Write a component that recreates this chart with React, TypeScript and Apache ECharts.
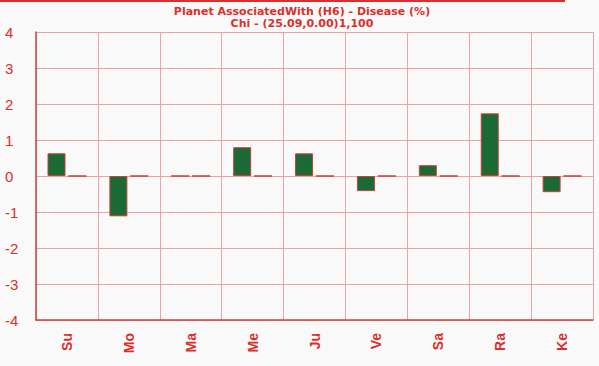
import React, { useEffect, useRef } from "react";
import * as echarts from "echarts";

const categories = ["Su", "Mo", "Ma", "Me", "Ju", "Ve", "Sa", "Ra", "Ke"];
const diseaseValues = [0.63, -1.12, 0, 0.8, 0.63, -0.42, 0.3, 1.74, -0.45];
const baselineValues = [0, 0, 0, 0, 0, 0, 0, 0, 0];
const titleLines = ["Planet AssociatedWith (H6) - Disease (%)", "Chi - (25.09,0.00)1,100"];

export default function App() {
  const ref = useRef<HTMLDivElement>(null);
  useEffect(() => {
    document.body.style.margin = "0";
    const chart = echarts.init(ref.current!, undefined, { renderer: "svg" });
    const red = "#d9302c";
    chart.setOption({
      animation: false,
      backgroundColor: "#f9f9f9",
      title: {
        text: titleLines.join("\n"),
        left: 297,
        textAlign: "center",
        top: 0,
        textStyle: {
          color: red,
          fontSize: 11,
          fontWeight: "bold",
          fontFamily: "DejaVu Sans, sans-serif",
          lineHeight: 12,
        },
      },
      graphic: [
        { type: "rect", shape: { x: 0, y: 0, width: 565, height: 2 }, style: { fill: red } },
      ],
      grid: { left: 36, right: 6, top: 32, bottom: 46, containLabel: false },
      xAxis: {
        type: "category",
        data: categories,
        axisLine: { show: true, onZero: false, lineStyle: { color: "#d04040", width: 1.5 } },
        axisTick: { show: false },
        splitLine: { show: true, lineStyle: { color: "#eba3a3", width: 1 } },
        axisLabel: {
          rotate: 90,
          color: red,
          fontSize: 14,
          fontWeight: "bold",
          margin: 13,
          fontFamily: "Liberation Sans, Arial, sans-serif",
        },
      },
      yAxis: {
        type: "value",
        min: -4,
        max: 4,
        interval: 1,
        axisLine: { show: true, lineStyle: { color: "#d04040", width: 1.5 } },
        axisTick: { show: false },
        splitLine: { show: true, lineStyle: { color: "#eba3a3", width: 1 } },
        axisLabel: {
          color: red,
          fontSize: 15,
          align: "left",
          margin: 31,
          fontFamily: "Liberation Sans, Arial, sans-serif",
        },
      },
      series: [
        {
          type: "bar",
          data: diseaseValues,
          barWidth: 18,
          barGap: "16%",
          itemStyle: { color: "#1b6a36", borderColor: "#c8403a", borderWidth: 1 },
        },
        {
          type: "bar",
          data: baselineValues,
          barWidth: 18,
          itemStyle: { color: "#c8403a", borderColor: "#c8403a", borderWidth: 1 },
        },
      ],
    });
    return () => chart.dispose();
  }, []);
  return <div ref={ref} style={{ width: 599, height: 366 }} />;
}
